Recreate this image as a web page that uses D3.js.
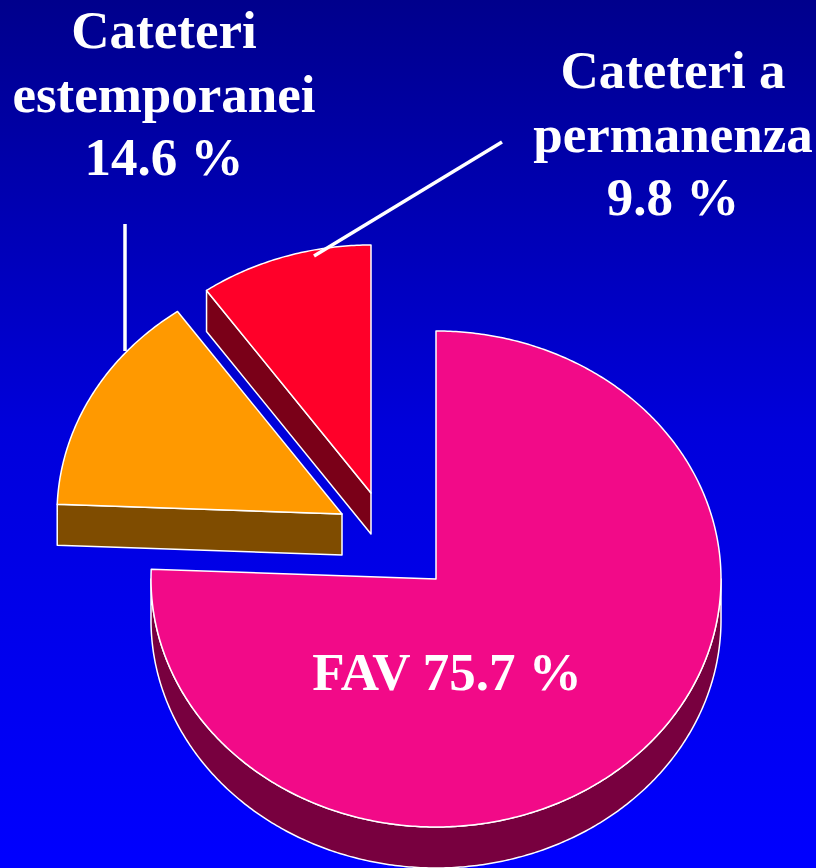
<!DOCTYPE html>
<html>
<head>
<meta charset="utf-8">
<script src="https://cdn.jsdelivr.net/npm/d3@7/dist/d3.min.js"></script>
<style>
  html, body { margin: 0; padding: 0; background: #0000c0; }
  svg { display: block; }
</style>
</head>
<body>
<div id="chart"></div>
<script>
// data
var categories = ["FAV", "Cateteri estemporanei", "Cateteri a permanenza"];
var values = [75.7, 14.6, 9.8];
var labelLines = [
	["FAV 75.7 %"],
	["Cateteri", "estemporanei", "14.6 %"],
	["Cateteri a", "permanenza", "9.8 %"]
];

// layout
var width = 816, height = 868,
	cx = 436, cy = 579,
	rx = 285, ry = 248,
	depth = 41;
var explode = [[0, 0], [-94, -65], [-65, -86]];
var topColors = ["#f20a88", "#ff9900", "#ff0029"];
var sideColors = ["#78003f", "#7f4c00", "#7a0018"];
var labelPos = [[447, 690], [164, 48], [673, 88]];
var lineGap = 63.5;

var svg = d3.select("#chart").append("svg")
	.attr("width", width)
	.attr("height", height);

var grad = svg.append("defs").append("linearGradient")
	.attr("id", "bg")
	.attr("x1", 0).attr("y1", 0).attr("x2", 0).attr("y2", 1);
grad.append("stop").attr("offset", 0).attr("stop-color", "#00008c");
grad.append("stop").attr("offset", 0.5).attr("stop-color", "#0000dc");
grad.append("stop").attr("offset", 1).attr("stop-color", "#0000ff");

svg.append("rect")
	.attr("width", width)
	.attr("height", height)
	.attr("fill", "url(#bg)");

var arcs = d3.pie().sort(null).value(d => d)(values);

// point on the tilted rim
function rim(c, a, dz) {
	return [c[0] + rx * Math.sin(a), c[1] - ry * Math.cos(a) + (dz || 0)];
}
function arcPoints(c, a0, a1, dz) {
	var n = Math.max(2, Math.ceil(Math.abs(a1 - a0) / 0.01));
	return d3.range(n + 1).map(i => rim(c, a0 + (a1 - a0) * i / n, dz));
}
var line = d3.line();

var slices = arcs.map((a, i) => ({
	i: i,
	a0: a.startAngle,
	a1: a.endAngle,
	c: [cx + explode[i][0], cy + explode[i][1]]
}));

// back to front
slices.sort((p, q) => p.c[1] - q.c[1]);

var g = svg.append("g");

slices.forEach(function(s) {
	var sg = g.append("g");
	var faces = [];
	var cDown = [s.c[0], s.c[1] + depth];

	// start edge wall
	if (Math.sin(s.a0) < -1e-6) {
		var p = rim(s.c, s.a0);
		faces.push([s.c, p, [p[0], p[1] + depth], cDown]);
	}
	// end edge wall
	if (Math.sin(s.a1) > 1e-6) {
		var q = rim(s.c, s.a1);
		faces.push([s.c, q, [q[0], q[1] + depth], cDown]);
	}
	// outer wall, front half only
	var lo = Math.max(s.a0, Math.PI / 2), hi = Math.min(s.a1, 3 * Math.PI / 2);
	if (hi > lo) {
		var topArc = arcPoints(s.c, lo, hi, 0);
		var botArc = arcPoints(s.c, lo, hi, depth).reverse();
		faces.push(topArc.concat(botArc));
	}

	faces.forEach(function(f) {
		sg.append("path")
			.attr("d", line(f) + "Z")
			.attr("fill", sideColors[s.i])
			.attr("stroke", "#ffffff")
			.attr("stroke-width", 1.5)
			.attr("stroke-linejoin", "round");
	});

	sg.append("path")
		.attr("d", line([s.c].concat(arcPoints(s.c, s.a0, s.a1, 0))) + "Z")
		.attr("fill", topColors[s.i])
		.attr("stroke", "#ffffff")
		.attr("stroke-width", 1.5)
		.attr("stroke-linejoin", "round");
});

// leader lines
svg.append("line")
	.attr("x1", 125).attr("y1", 224)
	.attr("x2", 125).attr("y2", 351)
	.attr("stroke", "#ffffff").attr("stroke-width", 3.5);
svg.append("line")
	.attr("x1", 502).attr("y1", 142)
	.attr("x2", 314).attr("y2", 256)
	.attr("stroke", "#ffffff").attr("stroke-width", 3.5);

// labels
labelLines.forEach(function(lines, i) {
	var t = svg.append("text")
		.attr("text-anchor", "middle")
		.attr("font-family", "'Liberation Serif', 'Times New Roman', serif")
		.attr("font-weight", "bold")
		.attr("font-size", 53)
		.attr("fill", "#ffffff");
	lines.forEach(function(l, j) {
		t.append("tspan")
			.attr("x", labelPos[i][0])
			.attr("y", labelPos[i][1] + j * lineGap)
			.text(l);
	});
});
</script>
</body>
</html>
